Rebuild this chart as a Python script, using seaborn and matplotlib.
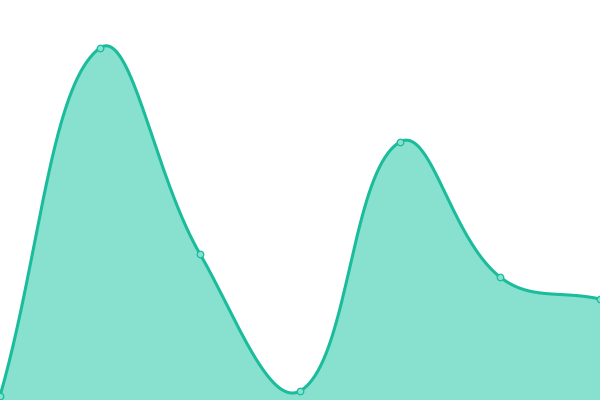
import matplotlib
matplotlib.use("Agg")
import matplotlib.pyplot as plt
import numpy as np
import pandas as pd
import seaborn as sns

# values (y axis 0..400, x = category index)
x_index = [0, 1, 2, 3, 4, 5, 6]
values = [4, 352, 146, 9, 258, 123, 101]

LINE = "#1abc9c"
FILL = "#88e0cf"
TENSION = 0.4


def spline_curve(px, py, tension=TENSION, steps=80):
    """Distance-weighted cardinal spline (pixel space), ends use the point itself."""
    n = len(px)
    cp_in, cp_out = [], []
    for i in range(n):
        prev = (px[max(i - 1, 0)], py[max(i - 1, 0)])
        nxt = (px[min(i + 1, n - 1)], py[min(i + 1, n - 1)])
        d01 = np.hypot(px[i] - prev[0], py[i] - prev[1])
        d12 = np.hypot(nxt[0] - px[i], nxt[1] - py[i])
        tot = d01 + d12
        s01 = d01 / tot if tot else 0
        s12 = d12 / tot if tot else 0
        fa, fb = tension * s01, tension * s12
        cp_in.append((px[i] - fa * (nxt[0] - prev[0]), py[i] - fa * (nxt[1] - prev[1])))
        cp_out.append((px[i] + fb * (nxt[0] - prev[0]), py[i] + fb * (nxt[1] - prev[1])))
    t = np.linspace(0, 1, steps)[:, None]
    segs = []
    for i in range(n - 1):
        p0 = np.array([px[i], py[i]])
        p3 = np.array([px[i + 1], py[i + 1]])
        c1 = np.array(cp_out[i])
        c2 = np.array(cp_in[i + 1])
        segs.append((1 - t) ** 3 * p0 + 3 * t * (1 - t) ** 2 * c1
                    + 3 * t ** 2 * (1 - t) * c2 + t ** 3 * p3)
    return np.vstack(segs)


sns.set_theme(style="white")
fig = plt.figure(figsize=(6, 4), dpi=100)
ax = fig.add_axes([0, 0, 1, 1])
ax.set_xlim(0, 6)
ax.set_ylim(0, 400)
ax.set_axis_off()

# build the smooth path in display space, then map back to data
disp = ax.transData.transform(np.column_stack([x_index, values]))
smooth = ax.transData.inverted().transform(spline_curve(disp[:, 0], disp[:, 1]))
curve = pd.DataFrame({"x": smooth[:, 0], "y": smooth[:, 1]})
points = pd.DataFrame({"x": x_index, "y": values})

ax.fill_between(curve["x"], curve["y"], 0, color=FILL, linewidth=0, zorder=1)
sns.lineplot(data=curve, x="x", y="y", ax=ax, color=LINE, linewidth=2.2,
             sort=False, estimator=None, zorder=2)
sns.scatterplot(data=points, x="x", y="y", ax=ax, s=22, color=FILL,
                edgecolor=LINE, linewidth=0.9, zorder=3)

ax.set_xlim(0, 6)
ax.set_ylim(0, 400)
ax.set_axis_off()

fig.savefig("out.png", dpi=100)
